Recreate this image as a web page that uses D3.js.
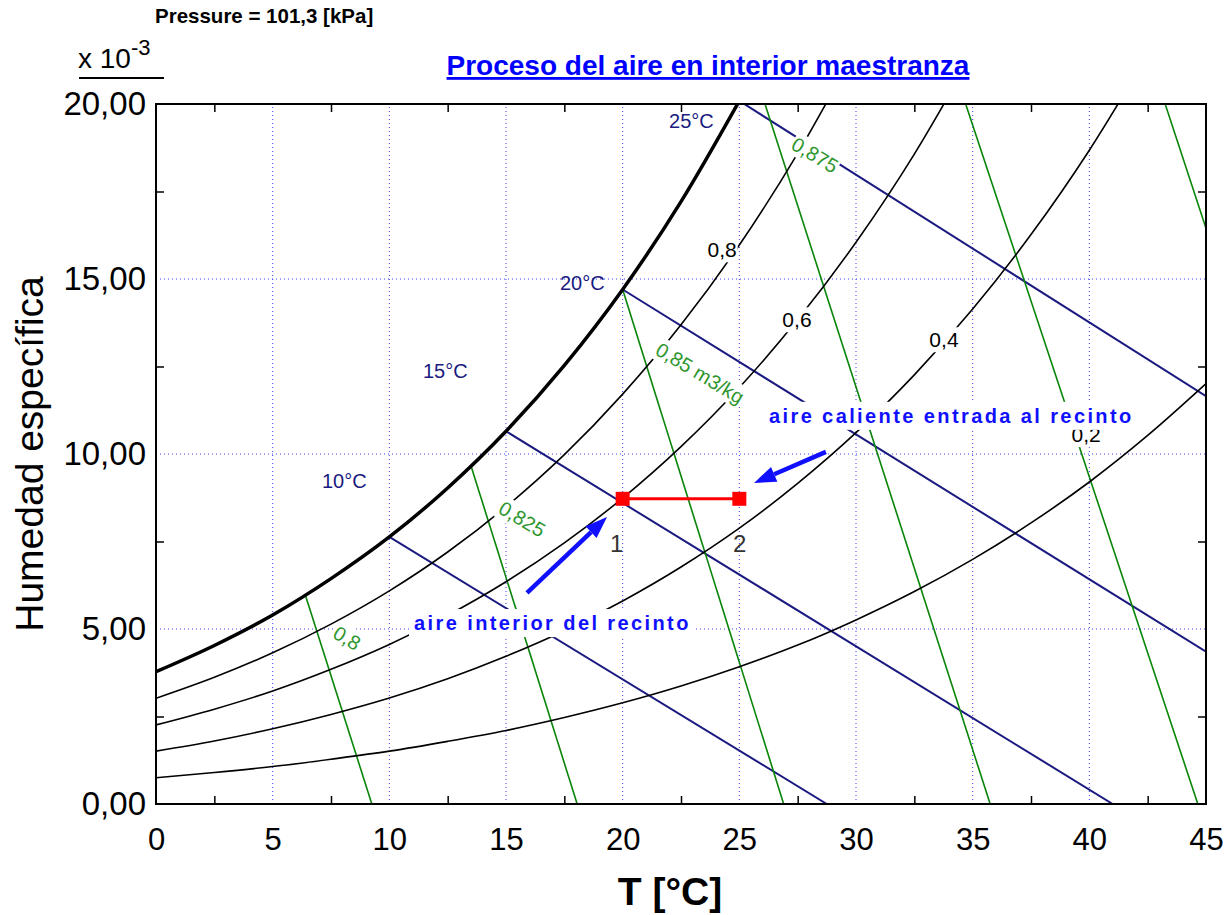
<!DOCTYPE html>
<html>
<head>
<meta charset="utf-8">
<script src="https://cdn.jsdelivr.net/npm/d3@7.9.0/dist/d3.min.js"></script>
<style>
  body { margin: 0; background: #fff; }
  svg { font-family: Arial, "Liberation Sans", sans-serif; }
</style>
</head>
<body>
<svg id="chart" width="1230" height="915"></svg>
<script>
// Dry bulb temperatures (°C) where humidity curves are read
const temps = [0, 2.5, 5, 7.5, 10, 12.5, 15, 17.5, 20, 22.5, 25, 27.5, 30, 32.5, 35, 37.5, 40, 42.5, 45];

// Specific humidity (x 10^-3 kg/kg) per relative humidity curve
const wSat = [3.78, 4.53, 5.40, 6.44, 7.63, 9.03, 10.65, 12.53, 14.70, 17.21, 20.09];
const w80 = [3.02, 3.62, 4.32, 5.14, 6.09, 7.20, 8.49, 9.98, 11.71, 13.69, 15.97, 18.59, 21.58];
const w60 = [2.26, 2.71, 3.23, 3.85, 4.56, 5.39, 6.35, 7.46, 8.74, 10.21, 11.90, 13.84, 16.05, 18.57, 21.45];
const w40 = [1.51, 1.80, 2.15, 2.56, 3.03, 3.58, 4.22, 4.95, 5.80, 6.77, 7.88, 9.16, 10.61, 12.26, 14.14, 16.27, 18.68, 21.42];
const w20 = [0.75, 0.90, 1.07, 1.28, 1.51, 1.79, 2.10, 2.47, 2.89, 3.37, 3.92, 4.54, 5.26, 6.07, 6.99, 8.03, 9.20, 10.53, 12.01];

// Wet bulb lines: [T start, w start, T end, w end]
const wetBulbLines = [
  [10, 7.63, 28.75, 0],
  [15, 10.65, 41.0, 0],
  [20, 14.70, 45, 4.35],
  [25, 20.09, 45, 11.65]
];
const wetBulbLabels = [["10°C", 7.11, 9.03], ["15°C", 11.44, 12.17], ["20°C", 17.31, 14.69], ["25°C", 21.99, 19.31]];

// Specific volume lines: [T start, w start, T end, w end]
const volumeLines = [
  [6.4, 5.97, 9.25, 0],
  [13.5, 9.66, 18.05, 0],
  [20, 14.70, 26.9, 0],
  [26.1, 20, 35.75, 0],
  [34.7, 20, 44.65, 0],
  [43.25, 20, 45, 16.45]
];
const volumeLabels = [["0,8", 8.19, 4.74], ["0,825", 15.69, 8.14], ["0,85 m3/kg", 23.31, 12.31], ["0,875", 28.24, 18.54]];

const rhLabels = [["0,8", 24.26, 15.83], ["0,6", 27.47, 13.83], ["0,4", 33.77, 13.26], ["0,2", 39.86, 10.55]];

// Process states
const stateT = [20, 25];
const stateW = [8.72, 8.72];
const stateNames = [["1", 19.46, 7.2], ["2", 24.73, 7.2]];

const xTicks = [0, 5, 10, 15, 20, 25, 30, 35, 40, 45];
const xMinor = [2.5, 7.5, 12.5, 17.5, 22.5, 27.5, 32.5, 37.5, 42.5];
const yTicks = [0, 5, 10, 15, 20];
const yMinor = [2.5, 7.5, 12.5, 17.5];
const xGrid = [5, 10, 15, 20, 25, 30, 35, 40];
const yGrid = [5, 10, 15];

const svg = d3.select("#chart");
const x = d3.scaleLinear().domain([0, 45]).range([156, 1206]);
const y = d3.scaleLinear().domain([0, 20]).range([804, 104]);
const comma = d3.formatLocale({ decimal: ",", thousands: ".", grouping: [3], currency: ["", ""] }).format(".2f");

svg.append("defs").append("clipPath").attr("id", "plot")
  .append("rect").attr("x", 156).attr("y", 104).attr("width", 1050).attr("height", 700);

// Grid
const grid = svg.append("g").attr("stroke", "#3d3dff").attr("stroke-width", 1).attr("stroke-dasharray", "1,3");
grid.selectAll(".gx").data(xGrid).join("line").attr("class", "gx")
  .attr("x1", d => x(d)).attr("x2", d => x(d)).attr("y1", y(0)).attr("y2", y(20));
grid.selectAll(".gy").data(yGrid).join("line").attr("class", "gy")
  .attr("y1", d => y(d)).attr("y2", d => y(d)).attr("x1", x(0)).attr("x2", x(45));

const plot = svg.append("g").attr("clip-path", "url(#plot)");

// Wet bulb lines
plot.selectAll(".wb").data(wetBulbLines).join("line").attr("class", "wb")
  .attr("x1", d => x(d[0])).attr("y1", d => y(d[1])).attr("x2", d => x(d[2])).attr("y2", d => y(d[3]))
  .attr("stroke", "#1a1a80").attr("stroke-width", 2);

// Specific volume lines
plot.selectAll(".vol").data(volumeLines).join("line").attr("class", "vol")
  .attr("x1", d => x(d[0])).attr("y1", d => y(d[1])).attr("x2", d => x(d[2])).attr("y2", d => y(d[3]))
  .attr("stroke", "#0a850a").attr("stroke-width", 1.6);

// Relative humidity curves
const line = d3.line().x(d => x(d[0])).y(d => y(d[1])).curve(d3.curveMonotoneX);
[w80, w60, w40, w20].forEach(w => {
  plot.append("path").datum(d3.zip(temps, w)).attr("d", line)
    .attr("fill", "none").attr("stroke", "#000").attr("stroke-width", 1.6);
});
plot.append("path").datum(d3.zip(temps, wSat)).attr("d", line)
  .attr("fill", "none").attr("stroke", "#000").attr("stroke-width", 3.5);

// Label with white box behind it
function boxedLabel(txt, px, py, opt) {
  const g = svg.append("g").attr("transform", `translate(${px},${py}) rotate(${opt.rot || 0})`);
  const t = g.append("text")
    .attr("text-anchor", opt.anchor || "middle")
    .attr("dy", opt.dy ?? "0.35em")
    .attr("font-size", opt.size)
    .attr("fill", opt.color)
    .text(txt);
  if (opt.weight) t.attr("font-weight", opt.weight);
  if (opt.spacing) t.attr("letter-spacing", opt.spacing);
  if (opt.box !== false) {
    const b = t.node().getBBox();
    const pad = opt.pad ?? 1;
    const padY = opt.padY ?? pad;
    g.insert("rect", "text").attr("x", b.x - pad).attr("y", b.y - padY)
      .attr("width", b.width + 2 * pad).attr("height", b.height + 2 * padY).attr("fill", "#fff");
  }
  return g;
}

volumeLabels.forEach(d => boxedLabel(d[0], x(d[1]), y(d[2]), { rot: 31, size: 20, color: "#2e962e" }));
rhLabels.forEach(d => boxedLabel(d[0], x(d[1]), y(d[2]), { size: 21, color: "#000" }));
wetBulbLabels.forEach(d => boxedLabel(d[0], x(d[1]), y(d[2]), { anchor: "start", dy: 0, size: 20, color: "#1a1a80", box: false }));

// Process line and states
svg.append("line")
  .attr("x1", x(stateT[0])).attr("y1", y(stateW[0])).attr("x2", x(stateT[1])).attr("y2", y(stateW[1]))
  .attr("stroke", "#ff0000").attr("stroke-width", 3);
svg.selectAll(".state").data(d3.zip(stateT, stateW)).join("rect").attr("class", "state")
  .attr("x", d => x(d[0]) - 7).attr("y", d => y(d[1]) - 7).attr("width", 14).attr("height", 14)
  .attr("fill", "#ff0000");
stateNames.forEach(d => boxedLabel(d[0], x(d[1]), y(d[2]), { anchor: "start", dy: 0, size: 24, color: "#333", box: false }));

// Annotations
const annotations = [
  { text: "aire interior del recinto", T: 11.06, w: 4.97, from: [15.9, 6.03], to: [19.33, 8.2] },
  { text: "aire caliente entrada al recinto", T: 26.27, w: 10.89, from: [28.71, 10.06], to: [25.63, 9.17] }
];
annotations.forEach(a => {
  boxedLabel(a.text, x(a.T), y(a.w), { anchor: "start", dy: 0, size: 20, weight: "bold", spacing: 2.4, color: "#1010ff", pad: 5, padY: 3 });
  const x0 = x(a.from[0]), y0 = y(a.from[1]), x1 = x(a.to[0]), y1 = y(a.to[1]);
  const ang = Math.atan2(y1 - y0, x1 - x0);
  const len = 22, half = 8;
  const bx = x1 - len * Math.cos(ang), by = y1 - len * Math.sin(ang);
  svg.append("line").attr("x1", x0).attr("y1", y0).attr("x2", bx).attr("y2", by)
    .attr("stroke", "#1010ff").attr("stroke-width", 4.5);
  svg.append("polygon")
    .attr("points", [
      [x1, y1],
      [bx + half * Math.sin(ang), by - half * Math.cos(ang)],
      [bx - half * Math.sin(ang), by + half * Math.cos(ang)]
    ].map(p => p.join(",")).join(" "))
    .attr("fill", "#1010ff");
});

// Minor ticks on all four sides (inward)
const tickAxes = [
  [d3.axisBottom(x).tickValues(xMinor), `translate(0,${y(0)})`],
  [d3.axisTop(x).tickValues(xMinor), `translate(0,${y(20)})`],
  [d3.axisLeft(y).tickValues(yMinor), `translate(${x(0)},0)`],
  [d3.axisRight(y).tickValues(yMinor), `translate(${x(45)},0)`]
];
tickAxes.forEach(([ax, tr]) => {
  const g = svg.append("g").attr("transform", tr).call(ax.tickSize(-8).tickFormat(""));
  g.select(".domain").remove();
  g.selectAll("line").attr("stroke", "#000").attr("stroke-width", 1.5);
});

// Tick labels
const xAxis = svg.append("g").attr("transform", `translate(0,${y(0)})`)
  .call(d3.axisBottom(x).tickValues(xTicks).tickSize(0).tickPadding(24).tickFormat(d3.format("d")));
xAxis.select(".domain").remove();
xAxis.selectAll("text").attr("font-size", 31).attr("font-family", "Arial, 'Liberation Sans', sans-serif").attr("fill", "#000");

const yAxis = svg.append("g").attr("transform", `translate(${x(0)},0)`)
  .call(d3.axisLeft(y).tickValues(yTicks).tickSize(0).tickPadding(10).tickFormat(comma));
yAxis.select(".domain").remove();
yAxis.selectAll("text").attr("font-size", 33).attr("font-family", "Arial, 'Liberation Sans', sans-serif").attr("fill", "#000");

// Frame
svg.append("rect").attr("x", x(0)).attr("y", y(20)).attr("width", x(45) - x(0)).attr("height", y(0) - y(20))
  .attr("fill", "none").attr("stroke", "#000").attr("stroke-width", 2);

// Titles
svg.append("text").attr("x", 155).attr("y", 23).attr("font-size", 20.5).attr("font-weight", "bold")
  .text("Pressure = 101,3 [kPa]");
svg.append("text").attr("x", 708).attr("y", 75).attr("text-anchor", "middle")
  .attr("font-size", 28).attr("font-weight", "bold").attr("fill", "#0000ff")
  .attr("text-decoration", "underline").text("Proceso del aire en interior maestranza");

const mult = svg.append("text").attr("x", 78).attr("y", 68).attr("font-size", 28);
mult.append("tspan").text("x 10");
mult.append("tspan").attr("font-size", 22).attr("dy", -13).text("-3");
svg.append("line").attr("x1", 79).attr("x2", 164).attr("y1", 78).attr("y2", 78)
  .attr("stroke", "#000").attr("stroke-width", 2);

svg.append("text").attr("transform", `translate(43,${(y(0) + y(20)) / 2}) rotate(-90)`)
  .attr("text-anchor", "middle").attr("font-size", 39).text("Humedad específica");

svg.append("text").attr("x", 670).attr("y", 905).attr("text-anchor", "middle")
  .attr("font-size", 39).attr("font-weight", "bold").text("T [°C]");
</script>
</body>
</html>
